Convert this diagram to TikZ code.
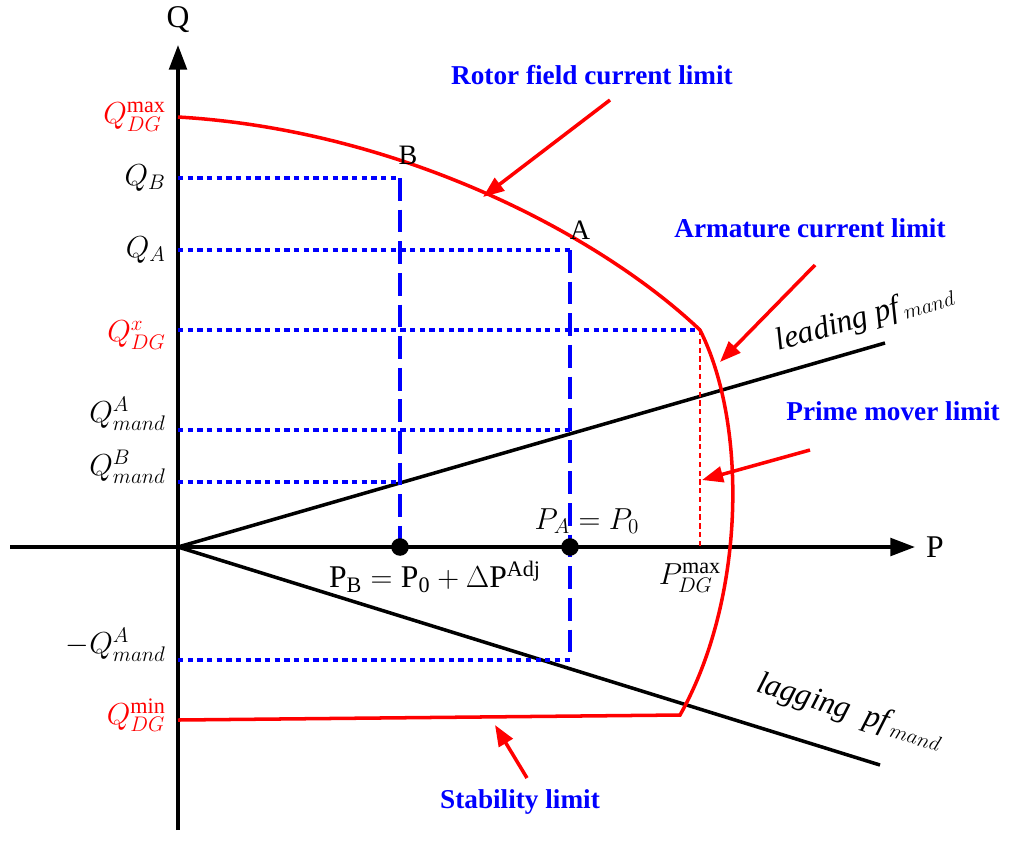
\documentclass[tikz,border=0pt]{standalone}
\usepackage{fontspec}
\setmainfont{Liberation Serif}
\usetikzlibrary{arrows.meta}
\begin{document}
\begin{tikzpicture}[x=0.02cm,y=-0.02cm,
 ax/.style={line width=2pt,-{Triangle[length=14pt,width=10pt]}},
 lim/.style={red,line width=2pt},
 bd/.style={blue,line width=1.8pt,dash pattern=on 3pt off 2.5pt},
 bl/.style={blue,line width=2pt,dash pattern=on 13pt off 5pt},
 pf/.style={black,line width=2pt},
 ra/.style={red,line width=2pt,-{Triangle[length=12pt,width=9pt]}},
 ql/.style={font=\fontsize{18}{20}\selectfont\itshape,anchor=east},
 bt/.style={blue,font=\fontsize{15.5}{18}\selectfont\bfseries},
 dot/.style={circle,fill=black,inner sep=0pt,minimum size=10pt}]
\useasboundingbox (0,0) rectangle (1024,843);
\coordinate (O) at (178,547);
\coordinate (Qt) at (178,45); \coordinate (Qb) at (178,830);
\coordinate (Pl) at (10,547); \coordinate (Pr) at (915,547);
\draw[ax] (Qb) -- (Qt);
\draw[ax] (Pl) -- (Pr);
\node (Q) at (178,20) {\fontsize{18}{20}\selectfont Q};
\node (P) at (935,547) {\fontsize{18}{20}\selectfont P};
\coordinate (Lead) at (885,343); \coordinate (Lag) at (880,765);
\draw[pf] (O) -- (Lead);
\draw[pf] (O) -- (Lag);
\node[rotate=16] (leadl) at (865,318) {\fontsize{18}{20}\selectfont\itshape leading pf$_{\,mand}$};
\node[rotate=-17] (lagl) at (850,712) {\fontsize{18}{20}\selectfont\itshape lagging\ \ pf$_{\,mand}$};
\coordinate (B) at (400,178); \coordinate (A) at (570,250); \coordinate (X) at (700,330);
\coordinate (Bp) at (400,547); \coordinate (Ap) at (570,547); \coordinate (Xp) at (700,547);
\coordinate (Am) at (570,660);
\draw[bd] (178,178) -- (B);
\draw[bd] (178,250) -- (A);
\draw[bd] (178,330) -- (X);
\draw[bd] (178,430) -- (570,430);
\draw[bd] (178,482) -- (400,482);
\draw[bd] (178,660) -- (Am);
\draw[bl] (B) -- (Bp);
\draw[bl] (A) -- (Am);
\draw[red,line width=1.6pt,dash pattern=on 3pt off 2pt] (X) -- (Xp);
\draw[lim] (178,117) .. controls (400,130) and (600,235) .. (X)
  .. controls (748,425) and (745,600) .. (680,715) -- (178,720);
\node[dot] (d1) at (Bp) {};
\node[dot] (d2) at (Ap) {};
\node[ql,red] at (172,117) {$Q_{DG}^{\max}$};
\node[ql] at (172,178) {$Q_{B}$};
\node[ql] at (172,250) {$Q_{A}$};
\node[ql,red] at (172,335) {$Q_{DG}^{x}$};
\node[ql] at (172,414) {$Q_{mand}^{A}$};
\node[ql] at (172,467) {$Q_{mand}^{B}$};
\node[ql] at (172,645) {$-Q_{mand}^{A}$};
\node[ql,red] at (172,715) {$Q_{DG}^{\min}$};
\node (Bl) at (408,155) {\fontsize{16}{18}\selectfont B};
\node (Al) at (580,230) {\fontsize{16}{18}\selectfont A};
\node (pa) at (587,521) {\fontsize{18}{20}\selectfont $P_A=P_0$};
\node (pb) at (435,577) {\fontsize{18}{20}\selectfont $\mathrm{P_B}=\mathrm{P_0}+\Delta\mathrm{P}^{\mathrm{Adj}}$};
\node (pm) at (690,578) {\fontsize{18}{20}\selectfont $P_{DG}^{\max}$};
\node[bt] (t1) at (592,75) {Rotor field current limit};
\node[bt] (t2) at (810,228) {Armature current limit};
\node[bt] (t3) at (893,411) {Prime mover limit};
\node[bt] (t4) at (520,802) {Stability limit};
\coordinate (a1s) at (610,100); \coordinate (a1e) at (483,197);
\coordinate (a2s) at (815,265); \coordinate (a2e) at (720,362);
\coordinate (a3s) at (810,450); \coordinate (a3e) at (702,480);
\coordinate (a4s) at (527,778); \coordinate (a4e) at (495,725);
\draw[ra] (a1s) -- (a1e);
\draw[ra] (a2s) -- (a2e);
\draw[ra] (a3s) -- (a3e);
\draw[ra] (a4s) -- (a4e);
\end{tikzpicture}
\end{document}
